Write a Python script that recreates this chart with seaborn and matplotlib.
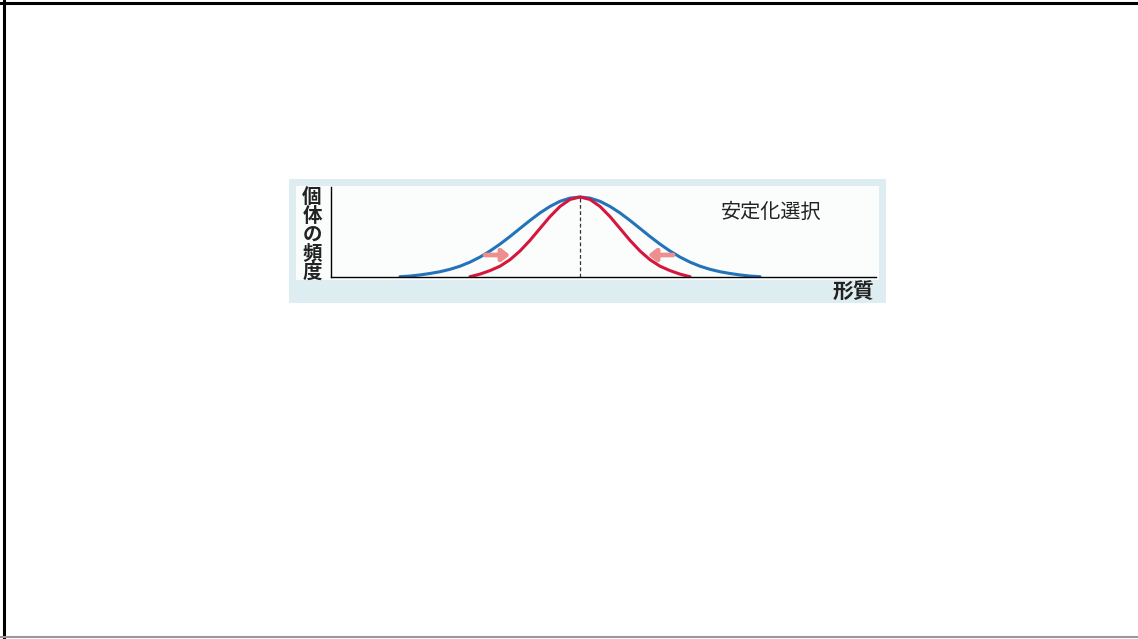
import matplotlib
matplotlib.use("Agg")
import matplotlib.pyplot as plt
import seaborn as sns
import pandas as pd
from matplotlib.patches import Rectangle
from matplotlib.lines import Line2D

# trait values (center = 0) and relative frequencies
trait = [-18, -17, -16, -15, -14, -13, -12, -11, -10, -9, -8, -7, -6, -5, -4, -3, -2, -1,
         0, 1, 2, 3, 4, 5, 6, 7, 8, 9, 10, 11, 12, 13, 14, 15, 16, 17, 18]
before = [0.004, 0.012, 0.026, 0.044, 0.066, 0.096, 0.135, 0.186, 0.249, 0.325,
          0.411, 0.506, 0.607, 0.707, 0.801, 0.882, 0.946, 0.986, 1.0, 0.986, 0.946, 0.882,
          0.801, 0.707, 0.607, 0.506, 0.411, 0.325, 0.249, 0.186, 0.135, 0.096, 0.066, 0.044,
          0.026, 0.012, 0.004]
after = [None, None, None, None, None, None, None, 0.004, 0.036, 0.080, 0.135, 0.216,
         0.325, 0.458, 0.607, 0.755, 0.882, 0.969, 1.0, 0.969, 0.882, 0.755, 0.607, 0.458,
         0.325, 0.216, 0.135, 0.080, 0.036, 0.004, None, None, None, None, None, None, None]

title_text = "安定化選択"
y_label = "個体の頻度"
x_label = "形質"

sns.set_style("white")
plt.rcParams['font.family'] = ['Noto Sans CJK JP', 'DejaVu Sans']

W, H = 1138, 639
fig = plt.figure(figsize=(W / 100, H / 100), dpi=100)

def fx(px):
    return px / W

def fy(py):
    return 1 - py / H

# light blue panel behind the chart
fig.patches.append(Rectangle((fx(289), fy(303)), fx(886) - fx(289), fy(179) - fy(303),
                             transform=fig.transFigure, facecolor='#deedf1', edgecolor='none', zorder=-2))
fig.patches.append(Rectangle((fx(296), fy(280)), fx(879) - fx(296), fy(186) - fy(280),
                             transform=fig.transFigure, facecolor='#fbfdfd', edgecolor='none', zorder=-1))

# page frame lines
fig.add_artist(Line2D([fx(0), fx(W)], [fy(2.5), fy(2.5)], transform=fig.transFigure, color='black', lw=2.2))
fig.add_artist(Line2D([fx(4), fx(4)], [fy(0), fy(H)], transform=fig.transFigure, color='black', lw=2.2))
fig.add_artist(Line2D([fx(0), fx(W)], [fy(636.5), fy(636.5)], transform=fig.transFigure, color='#999999', lw=1.5))

ax = fig.add_axes([fx(331), fy(277), fx(876) - fx(331), fy(187) - fy(277)])
ax.set_zorder(2)
ax.patch.set_alpha(0)

df = pd.DataFrame({'trait': trait, 'before': before, 'after': after})
sns.lineplot(data=df, x='trait', y='before', ax=ax, color='#2373b9', lw=2.2)
sns.lineplot(data=df.dropna(), x='trait', y='after', ax=ax, color='#d5163d', lw=2.2)

ax.plot([0, 0], [0, 1.0], color='#333333', lw=0.9, ls=(0, (3, 2)))

# arrows showing the selection pressure
arrow_kw = dict(arrowstyle='-|>,head_length=0.45,head_width=0.35', color='#ef8e8e', lw=3.4,
                shrinkA=0, shrinkB=0)
ax.annotate('', xy=(-7.0, 0.275), xytext=(-9.5, 0.275), arrowprops=arrow_kw)
ax.annotate('', xy=(6.8, 0.275), xytext=(9.3, 0.275), arrowprops=arrow_kw)

ax.set_xlim(-24.9, 29.6)
ax.set_ylim(0, 1.125)
ax.set_xticks([])
ax.set_yticks([])
ax.set_xlabel('')
ax.set_ylabel('')
for side in ['top', 'right']:
    ax.spines[side].set_visible(False)
for side in ['left', 'bottom']:
    ax.spines[side].set_color('black')
    ax.spines[side].set_linewidth(1.0)

ax.text(19.1, 0.81, title_text, fontsize=14.5, color='#222222', ha='center', va='center')

fig.text(fx(312), fy(235), "\n".join(y_label), fontsize=14, fontweight='bold', color='#222222',
         ha='center', va='center', linespacing=0.97, zorder=3)
fig.text(fx(853), fy(292), x_label, fontsize=15, fontweight='bold', color='#222222',
         ha='center', va='center', zorder=3)

fig.savefig('out.png', dpi=100)
